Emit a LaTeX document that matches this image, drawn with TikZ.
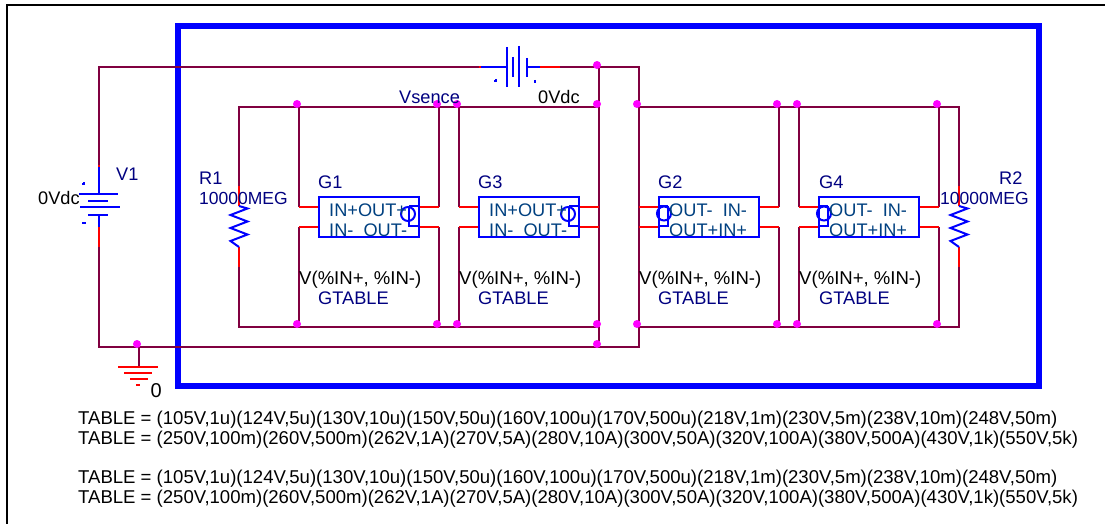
\documentclass[tikz,border=0pt]{standalone}
\usepackage{fontspec}
\setmainfont{Liberation Sans}
\definecolor{wirec}{HTML}{800040}
\definecolor{navyc}{HTML}{000080}
\definecolor{pintxt}{HTML}{004080}
\definecolor{dotc}{HTML}{FF00FF}
\definecolor{bluec}{HTML}{0000FF}
\definecolor{redc}{HTML}{FF0000}
\tikzset{
  wire/.style={draw=wirec,line width=2pt,line join=miter},
  redw/.style={draw=redc,line width=2pt},
  bluew/.style={draw=bluec,line width=2pt},
  frameb/.style={draw=bluec,line width=6pt},
  framek/.style={draw=black,line width=2pt},
  lab/.style={anchor=base west,inner sep=0pt,font=\fontsize{18.2}{18.2}\selectfont},
  labm/.style={anchor=base west,inner sep=0pt,font=\fontsize{17.5}{17.5}\selectfont},
  labz/.style={anchor=base west,inner sep=0pt,font=\fontsize{20}{20}\selectfont},
  tabl/.style={anchor=base west,inner sep=0pt,font=\fontsize{18.55}{18.55}\selectfont},
  dot/.style={circle,fill=dotc,draw=none,minimum size=8pt,inner sep=0pt},
  gbox/.style={rectangle,draw=bluec,line width=2pt,minimum width=100pt,minimum height=40pt,inner sep=0pt}
}
\begin{document}
\begin{tikzpicture}[x=1pt,y=-1pt]
\useasboundingbox (0,0) rectangle (1105,524);
% outer black lines
\coordinate (fl) at (7,524); \coordinate (ftl) at (7,5); \coordinate (ftr) at (1105,5);
\draw[framek] (fl) -- (ftl) -- (ftr);
% big blue frame
\coordinate (b1) at (178,26); \coordinate (b2) at (1038.5,385.5);
\draw[frameb] (b1) rectangle (b2);
% junction coordinates
\foreach \x in {299,439,459,599,639,779,799,939}{
  \coordinate (T\x) at (\x,107);
  \coordinate (B\x) at (\x,327);
  \coordinate (U\x) at (\x,207);
  \coordinate (D\x) at (\x,227);
}
% G blocks
\node[gbox] (G1box) at (369,216.5) {};
\node[gbox] (G3box) at (529,216.5) {};
\node[gbox] (G2box) at (709,216.5) {};
\node[gbox] (G4box) at (869,216.5) {};
% main loop
\coordinate (vt) at (99,166); \coordinate (vb) at (99,247);
\coordinate (tl) at (99,67); \coordinate (bl) at (99,347);
\coordinate (batL) at (480,67); \coordinate (batR) at (560,67);
\coordinate (tr) at (639,67); \coordinate (br) at (639,347);
\coordinate (tm) at (599,67); \coordinate (bm) at (599,347);
\coordinate (gnd) at (139,347); \coordinate (gndb) at (139,367);
\draw[wire] (vt) -- (tl) -- (batL);
\draw[wire] (batR) -- (tr) -- (br) -- (bl) -- (vb);
\draw[wire] (tm) -- (bm);
\draw[wire] (gnd) -- (gndb);
% rails and resistors
\coordinate (r1t) at (239,107); \coordinate (r1b) at (239,327);
\coordinate (r2t) at (959,107); \coordinate (r2b) at (959,327);
\coordinate (r1a) at (239,186); \coordinate (r1c) at (239,206);
\coordinate (r1d) at (239,247); \coordinate (r1e) at (239,267);
\coordinate (r2a) at (959,186); \coordinate (r2c) at (959,206);
\coordinate (r2d) at (959,247); \coordinate (r2e) at (959,267);
\draw[wire] (r1a) -- (r1t) -- (T599);
\draw[wire] (r1e) -- (r1b) -- (B599);
\draw[wire] (r2a) -- (r2t) -- (T639);
\draw[wire] (r2e) -- (r2b) -- (B639);
\draw[redw] (r1a) -- (r1c); \draw[redw] (r1d) -- (r1e);
\draw[redw] (r2a) -- (r2c); \draw[redw] (r2d) -- (r2e);
\foreach \r in {r1c,r2c}{
  \draw[bluew,line join=miter] (\r) -- ++(8.5,2.5) -- ++(-17,6.5) -- ++(17,6.5) -- ++(-17,6.5) -- ++(17,6.5) -- ++(-17,6.5) -- ++(8.5,6);
}
% verticals of the G blocks
\foreach \x in {299,439,459,639,779,799,939}{
  \draw[wire] (T\x) -- (U\x);
  \draw[wire] (D\x) -- (B\x);
}
\draw[wire] (U599) -- (D599);
% red stubs
\foreach \b/\l/\r in {G1box/299/439,G3box/459/599,G2box/639/779,G4box/799/939}{
  \draw[redw] (U\l) -- (\b.west |- U\l);
  \draw[redw] (D\l) -- (\b.west |- D\l);
  \draw[redw] (U\r) -- (\b.east |- U\r);
  \draw[redw] (D\r) -- (\b.east |- D\r);
}
% dots
\foreach \x in {299,439,459,599,639,779,799,939}{
  \node[dot] at ([shift={(-2,-3)}]T\x) {};
  \node[dot] at ([shift={(-2,-3)}]B\x) {};
}
\node[dot] at ([shift={(-2,-2)}]tm) {};
\node[dot] at ([shift={(-2,-3)}]bm) {};
\node[dot] at ([shift={(-2,-3)}]gnd) {};
% ground symbol
\draw[redw] (118,367) -- (158,367);
\draw[redw] (124,373) -- (152,373);
\draw[redw] (130,379) -- (148,379);
\draw[redw] (136,385) -- (140,385);
% V1 battery
\draw[redw] (99,165) -- (99,167);
\draw[bluew] (99,167) -- (99,194);
\draw[bluew] (79,194) -- (118,194);
\draw[bluew] (88,200.5) -- (108,200.5);
\draw[bluew] (80,207) -- (120,207);
\draw[bluew] (88,214.5) -- (108,214.5);
\draw[bluew] (99,214.5) -- (99,227);
\draw[redw] (99,227) -- (99,247);
\draw[bluew] (82,184) -- (85,184); \draw[bluew] (84,182) -- (84,185);
\draw[bluew] (82,222.5) -- (86,222.5);
% series battery
\draw[redw] (479,67) -- (481,67);
\draw[bluew] (481,67) -- (507,67);
\draw[bluew] (507,47) -- (507,87);
\draw[bluew] (513,57) -- (513,77);
\draw[bluew] (519,46) -- (519,87);
\draw[bluew] (527,58) -- (527,77);
\draw[bluew] (527,67) -- (540,67);
\draw[redw] (540,67) -- (560,67);
\draw[bluew] (494,81) -- (497,81); \draw[bluew] (496,79) -- (496,82);
\draw[bluew] (535,80) -- (535,83);
% source symbols
\foreach \b in {G1box,G3box}{
  \draw[bluew] ([shift={(-11,10.5)}]\b.north east) -- ([shift={(0,10.5)}]\b.north east);
  \draw[bluew] ([shift={(-11,10.5)}]\b.north east) -- ([shift={(-11,30)}]\b.north east) -- ([shift={(0,30)}]\b.north east);
  \draw[bluew] ([shift={(-12,18.5)}]\b.north east) circle[radius=7];
}
\foreach \b in {G2box,G4box}{
  \draw[bluew] ([shift={(10,10.5)}]\b.north west) -- ([shift={(0,10.5)}]\b.north west);
  \draw[bluew] ([shift={(10,10.5)}]\b.north west) -- ([shift={(10,30)}]\b.north west) -- ([shift={(0,30)}]\b.north west);
  \draw[bluew] ([shift={(6,18)}]\b.north west) circle[radius=7];
}
% labels
\node[lab] (l0v1) at (38,204) {0Vdc};
\node[lab,navyc] (lv1) at (116,180) {V1};
\node[lab,navyc] (lr1) at (199,184) {R1};
\node[labm,navyc] (lr1v) at (199,204) {10000MEG};
\node[lab,navyc] (lr2) at (999,184) {R2};
\node[labm,navyc] (lr2v) at (940,204) {10000MEG};
\node[lab,navyc] (lvs) at (399,104) {Vsence};
\node[lab] (l0v2) at (538,104) {0Vdc};
\node[labz] (l0) at (150.5,397) {0};
\node[lab,navyc] (lg1) at (318,188) {G1};
\node[lab,navyc] (lg3) at (478,188) {G3};
\node[lab,navyc] (lg2) at (658,188) {G2};
\node[lab,navyc] (lg4) at (819,188) {G4};
\node[lab,pintxt] (p1a) at (329,216) {IN+OUT+};
\node[lab,pintxt] (p1b) at (329,236) {IN-\ \ OUT-};
\node[lab,pintxt] (p3a) at (489,216) {IN+OUT+};
\node[lab,pintxt] (p3b) at (489,236) {IN-\ \ OUT-};
\node[lab,pintxt] (p2a) at (669,216) {OUT-\ \ IN-};
\node[lab,pintxt] (p2b) at (669,236) {OUT+IN+};
\node[lab,pintxt] (p4a) at (829,216) {OUT-\ \ IN-};
\node[lab,pintxt] (p4b) at (829,236) {OUT+IN+};
\node[tabl] (e1) at (299,284) {V(\%IN+, \%IN-)};
\node[tabl] (e3) at (459,284) {V(\%IN+, \%IN-)};
\node[tabl] (e2) at (639,284) {V(\%IN+, \%IN-)};
\node[tabl] (e4) at (799,284) {V(\%IN+, \%IN-)};
\node[lab,navyc] (t1) at (318,304) {GTABLE};
\node[lab,navyc] (t3) at (478,304) {GTABLE};
\node[lab,navyc] (t2) at (658,304) {GTABLE};
\node[lab,navyc] (t4) at (819,304) {GTABLE};
\node[tabl] (ta) at (78,424) {TABLE = (105V,1u)(124V,5u)(130V,10u)(150V,50u)(160V,100u)(170V,500u)(218V,1m)(230V,5m)(238V,10m)(248V,50m)};
\node[tabl] (tb) at (78,444) {TABLE = (250V,100m)(260V,500m)(262V,1A)(270V,5A)(280V,10A)(300V,50A)(320V,100A)(380V,500A)(430V,1k)(550V,5k)};
\node[tabl] (tc) at (78,483) {TABLE = (105V,1u)(124V,5u)(130V,10u)(150V,50u)(160V,100u)(170V,500u)(218V,1m)(230V,5m)(238V,10m)(248V,50m)};
\node[tabl] (td) at (78,503) {TABLE = (250V,100m)(260V,500m)(262V,1A)(270V,5A)(280V,10A)(300V,50A)(320V,100A)(380V,500A)(430V,1k)(550V,5k)};
\end{tikzpicture}
\end{document}
